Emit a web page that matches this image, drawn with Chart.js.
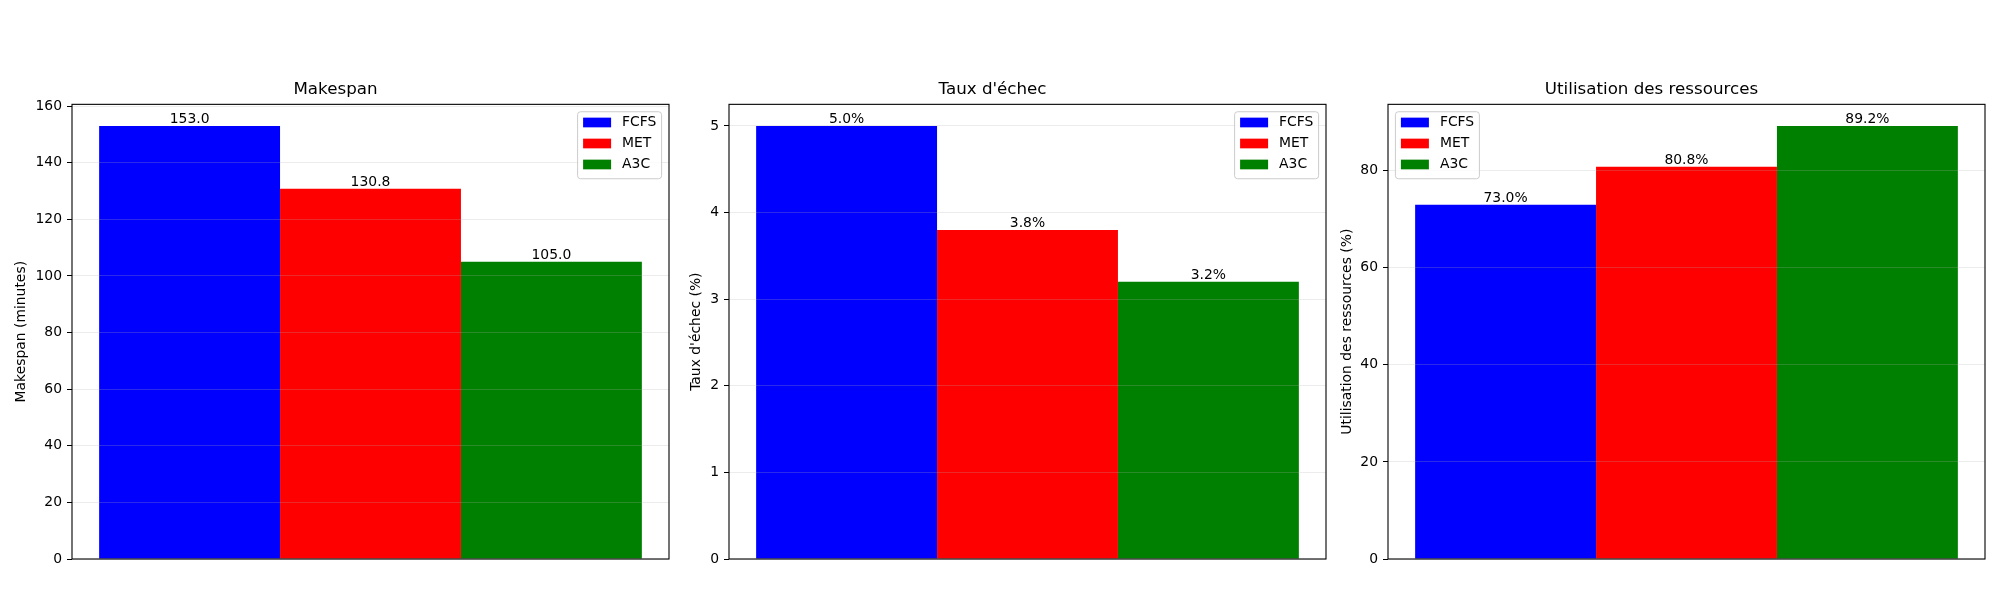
<!DOCTYPE html>
<html lang="fr">
<head>
    <meta charset="UTF-8">
    <title>Comparaison FCFS / MET / A3C</title>
    <style>
        body { margin: 0; background: #fff; width: 2000px; height: 600px; position: relative; overflow: hidden; }
        canvas { position: absolute; top: 60px; }
    </style>
    <script src="https://cdn.jsdelivr.net/npm/chart.js"></script>
</head>
<body>
    <canvas id="c1" width="669" height="520" style="left:2px"></canvas>
    <canvas id="c2" width="669" height="520" style="left:659px"></canvas>
    <canvas id="c3" width="669" height="520" style="left:1318px"></canvas>

    <script>
        // data
        const methods = ["FCFS", "MET", "A3C"];
        const makespan = [153.0, 130.8, 105.0];
        const tauxEchec = [5.0, 3.8, 3.2];
        const utilisation = [73.0, 80.8, 89.2];

        const makespanTicks = [0, 20, 40, 60, 80, 100, 120, 140, 160];
        const tauxTicks = [0, 1, 2, 3, 4, 5];
        const utilTicks = [0, 20, 40, 60, 80];

        const colors = ["#0000ff", "#ff0000", "#008000"];
        const FONT = "'DejaVu Sans', sans-serif";
        Chart.defaults.font.family = FONT;
        Chart.defaults.color = "#000";

        // bar value labels, frame and legend drawn like matplotlib
        const extras = {
            id: "extras",
            afterDraw(chart, args, opts) {
                const ctx = chart.ctx;
                const a = chart.chartArea;
                ctx.save();
                // value labels
                ctx.font = "13.9px " + FONT;
                ctx.fillStyle = "#000";
                ctx.textAlign = "center";
                ctx.textBaseline = "alphabetic";
                chart.data.datasets.forEach((ds, i) => {
                    const bar = chart.getDatasetMeta(i).data[0];
                    ctx.fillText(ds.data[0].toFixed(1) + opts.suffix, bar.x, bar.y - 3);
                });
                // axes frame
                ctx.strokeStyle = "#000";
                ctx.lineWidth = 1.1;
                ctx.strokeRect(a.left, a.top, a.right - a.left, a.bottom - a.top);
                // legend
                const w = 84, h = 67;
                const x = opts.legendLeft ? a.left + 7.4 : a.right - 7.4 - w;
                const y = a.top + 7.4;
                ctx.beginPath();
                ctx.roundRect(x, y, w, h, 3);
                ctx.fillStyle = "rgba(255,255,255,0.8)";
                ctx.fill();
                ctx.strokeStyle = "#cccccc";
                ctx.lineWidth = 1;
                ctx.stroke();
                ctx.textAlign = "left";
                ctx.textBaseline = "middle";
                chart.data.datasets.forEach((ds, i) => {
                    const cy = y + 10.8 + i * 21;
                    ctx.fillStyle = ds.backgroundColor;
                    ctx.fillRect(x + 5.5, cy - 4.9, 28, 9.7);
                    ctx.fillStyle = "#000";
                    ctx.fillText(ds.label, x + 44.5, cy);
                });
                ctx.restore();
            }
        };

        function makeChart(id, title, values, ticks, yMax, yLabel, labelPad, suffix, legendLeft) {
            return new Chart(document.getElementById(id), {
                type: "bar",
                data: {
                    labels: [""],
                    datasets: methods.map((m, i) => ({
                        label: m,
                        data: [values[i]],
                        backgroundColor: colors[i],
                        borderWidth: 0
                    }))
                },
                options: {
                    responsive: false,
                    animation: false,
                    layout: { padding: { left: 0, right: 2, top: 0, bottom: 0 } },
                    datasets: { bar: { barPercentage: 1, categoryPercentage: 1 / 1.1 } },
                    plugins: {
                        legend: { display: false },
                        tooltip: { enabled: false },
                        title: {
                            display: true,
                            text: title,
                            color: "#000",
                            font: { size: 16.7, weight: "normal", family: FONT },
                            padding: { top: 20, bottom: 4.3 }
                        },
                        extras: { suffix: suffix, legendLeft: legendLeft }
                    },
                    scales: {
                        x: {
                            type: "category",
                            grid: { display: false },
                            border: { display: false },
                            ticks: { display: false },
                            afterFit: s => { s.height = 21; }
                        },
                        y: {
                            min: 0,
                            max: yMax,
                            afterBuildTicks: s => { s.ticks = ticks.map(v => ({ value: v })); },
                            afterFit: s => { s.width = 70; },
                            border: { display: false },
                            grid: {
                                color: "rgba(176,176,176,0.3)",
                                lineWidth: 0.8,
                                tickColor: "#000",
                                tickLength: 5,
                                tickWidth: 1,
                                z: 1
                            },
                            ticks: { padding: 5, font: { size: 13.9 }, color: "#000" },
                            title: {
                                display: true,
                                text: yLabel,
                                color: "#000",
                                font: { size: 13.9 },
                                padding: { top: labelPad, bottom: 0 }
                            }
                        }
                    }
                },
                plugins: [extras]
            });
        }

        makeChart("c1", "Makespan", makespan, makespanTicks, 160.65, "Makespan (minutes)", 10.6, "", false);
        makeChart("c2", "Taux d'échec", tauxEchec, tauxTicks, 5.25, "Taux d'échec (%)", 28.6, "%", false);
        makeChart("c3", "Utilisation des ressources", utilisation, utilTicks, 93.66, "Utilisation des ressources (%)", 20.6, "%", true);
    </script>
</body>
</html>
